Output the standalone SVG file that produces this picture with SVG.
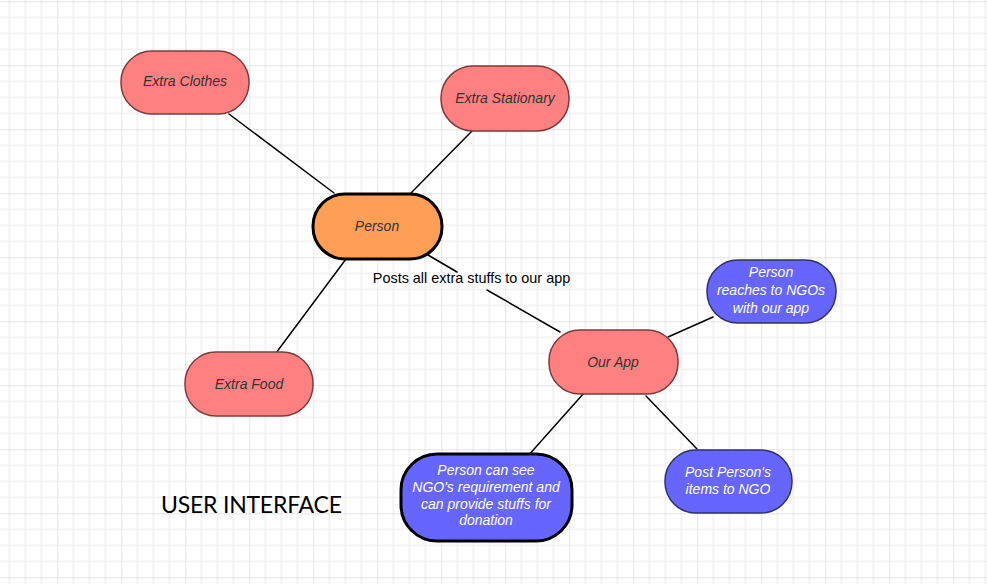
<svg xmlns="http://www.w3.org/2000/svg" width="987" height="584" viewBox="0 0 987 584">
<defs>
<pattern id="grid" x="-6.7" y="1.3" width="64" height="64" patternUnits="userSpaceOnUse">
<path d="M16 0V64M32 0V64M48 0V64M0 16H64M0 32H64M0 48H64" stroke="#ebebeb" stroke-width="1.2" fill="none"/>
<path d="M0 0V64M0 0H64" stroke="#dcdcdc" stroke-width="1.4" fill="none"/>
</pattern>
<style>
.red{fill:#ff8080;stroke:#7a3c3c;stroke-width:1.5}
.org{fill:#ff9f55;stroke:#000;stroke-width:3}
.blue{fill:#6666ff;stroke:#30306a;stroke-width:1.5}
.blueb{fill:#6666ff;stroke:#000;stroke-width:3}
.t{font-family:"Liberation Sans",Arial,sans-serif;font-size:14px;font-style:italic;text-anchor:middle}
.dk{fill:#333}
.wt{fill:#fff}
.ln{stroke:#000;stroke-width:1.5;fill:none;stroke-linecap:round}
</style>
</defs>
<rect width="987" height="584" fill="#fff"/>
<rect width="987" height="584" fill="url(#grid)"/>
<g id="connectors">
<line class="ln" x1="229" y1="114" x2="334" y2="193"/>
<line class="ln" x1="472" y1="131" x2="410" y2="194"/>
<line class="ln" x1="346" y1="259" x2="276" y2="353"/>
<line class="ln" x1="428" y1="255" x2="457" y2="272"/>
<line class="ln" x1="487" y1="290" x2="560" y2="332"/>
<line class="ln" x1="668" y1="337" x2="713" y2="317"/>
<line class="ln" x1="584" y1="393" x2="527" y2="457"/>
<line class="ln" x1="646" y1="396" x2="697" y2="449"/>
</g>
<g id="edge-label">
<text x="471.5" y="283" style="font-family:'Liberation Sans',Arial,sans-serif;font-size:14.4px;text-anchor:middle" fill="#000">Posts all extra stuffs to our app</text>
</g>
<g id="extra-clothes">
<rect class="red" x="121" y="51" width="128" height="63" rx="31"/>
<text class="t dk" x="185" y="86">Extra Clothes</text>
</g>
<g id="extra-stationary">
<rect class="red" x="441" y="66" width="128" height="65" rx="32"/>
<text class="t dk" x="505" y="103">Extra Stationary</text>
</g>
<g id="person">
<rect class="org" x="313" y="194" width="129" height="65" rx="32"/>
<text class="t dk" x="377" y="231">Person</text>
</g>
<g id="extra-food">
<rect class="red" x="185" y="352" width="128" height="64" rx="31"/>
<text class="t dk" x="249" y="389">Extra Food</text>
</g>
<g id="our-app">
<rect class="red" x="549" y="330" width="129" height="64" rx="31"/>
<text class="t dk" x="613" y="367">Our App</text>
</g>
<g id="person-reaches">
<rect class="blue" x="707" y="260" width="129" height="63" rx="31"/>
<text class="t wt" x="771" y="277">Person</text>
<text class="t wt" x="771" y="295">reaches to NGOs</text>
<text class="t wt" x="771" y="313">with our app</text>
</g>
<g id="person-can-see">
<rect class="blueb" x="401" y="454" width="171" height="87" rx="36"/>
<text class="t wt" x="486" y="475">Person can see</text>
<text class="t wt" x="486" y="492">NGO's requirement and</text>
<text class="t wt" x="486" y="508.5">can provide stuffs for</text>
<text class="t wt" x="486" y="525">donation</text>
</g>
<g id="post-items">
<rect class="blue" x="665" y="450" width="127" height="63" rx="31"/>
<text class="t wt" x="728" y="477">Post Person's</text>
<text class="t wt" x="728" y="494">items to NGO</text>
</g>
<g id="title">
<text x="161" y="513" style="font-family:Lato,'Open Sans',sans-serif;font-size:23px" fill="#000" textLength="181">USER INTERFACE</text>
</g>
</svg>
